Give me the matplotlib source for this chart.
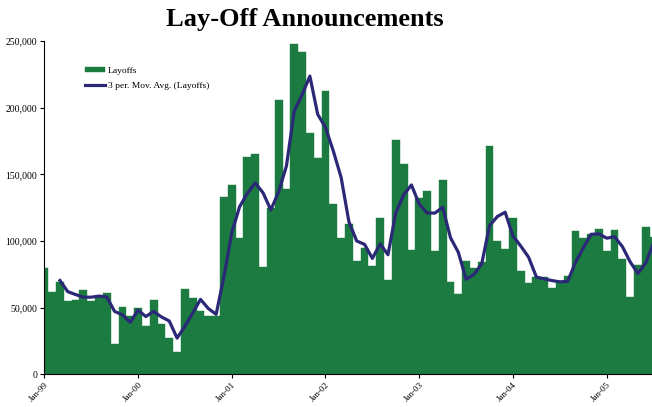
import numpy as np
import pandas as pd
import matplotlib
matplotlib.use("Agg")
import matplotlib.pyplot as plt

# monthly lay-off announcements, Jan-99 .. Jul-05
layoffs = [80000, 62000, 69000, 55000, 55500, 63000, 55000, 58000, 61000, 22500,
           50500, 44000, 50000, 36000, 55500, 37500, 27000, 17000, 64000, 57000,
           47500, 43500, 44000, 132700, 141700, 102500, 163000, 165000, 80500, 124500,
           205500, 139000, 248000, 242000, 181000, 162000, 212500, 128000, 102500, 112600,
           84800, 95000, 81000, 117500, 70600, 175600, 157500, 93000, 132500, 137500,
           92700, 145700, 69000, 60000, 85000, 79500, 84000, 171000, 100000, 93700,
           117500, 77300, 68800, 72700, 73100, 65100, 69800, 74100, 107700, 102300,
           105000, 108700, 92600, 108200, 86800, 58100, 82000, 110700, 103000]
year_labels = ["Jan-99", "Jan-00", "Jan-01", "Jan-02", "Jan-03", "Jan-04", "Jan-05"]
y_ticks = [0, 50000, 100000, 150000, 200000, 250000]

months = np.arange(len(layoffs))
# Excel-style 3 period moving average trendline
mov_avg = pd.Series(layoffs).rolling(3).mean()

plt.rcParams['font.family'] = ['Liberation Serif', 'DejaVu Serif']

fig = plt.figure(figsize=(6.52, 4.07), dpi=100)
ax = fig.add_axes([44.3 / 652, (407 - 374.3) / 407, (652 - 44.3) / 652, (374.3 - 41) / 407])

bars = ax.bar(months, layoffs, width=1.0, color='#1b7b40', edgecolor='#1b7b40',
              linewidth=0.3, label='Layoffs')
line, = ax.plot(months, mov_avg, color='#2b2977', lw=2.3,
                label='3 per. Mov. Avg. (Layoffs)')

ax.set_xlim(0, 77.8)
ax.set_ylim(0, 250000)
ax.set_yticks(y_ticks)
ax.set_yticklabels([f"{v:,}" for v in y_ticks], fontsize=7)
ax.set_xticks(np.arange(0, 73, 12))
ax.set_xticklabels(year_labels, fontsize=6.5, rotation=45, ha='right',
                   va='top', rotation_mode='anchor')
ax.tick_params(axis='both', direction='out', length=3, width=0.8, pad=2)
ax.spines['top'].set_visible(False)
ax.spines['right'].set_visible(False)

fig.text(0.468, 0.951, "Lay-Off Announcements", ha='center', va='center',
         fontsize=19, fontweight='bold')

ax.legend([bars, line], ['Layoffs', '3 per. Mov. Avg. (Layoffs)'],
          loc='upper left', bbox_to_anchor=(85 / 652, 1 - 67 / 407),
          bbox_transform=fig.transFigure, frameon=False, fontsize=6.8,
          handlelength=2.1, handleheight=0.5, handletextpad=0.3,
          labelspacing=0.75, borderpad=0, borderaxespad=0)

fig.savefig("out.png", dpi=100)
